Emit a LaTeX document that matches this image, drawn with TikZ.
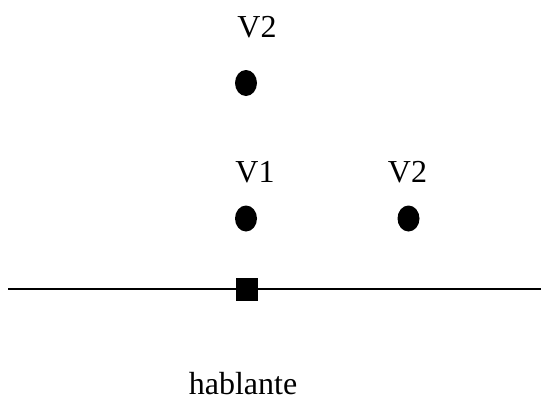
\documentclass[tikz,border=0pt]{standalone}
\usepackage{fontspec}
\setmainfont{Liberation Serif}
\usetikzlibrary{shapes.geometric}
\begin{document}
\begin{tikzpicture}[x=1pt,y=-1pt,
  lbl/.style={anchor=base,inner sep=0pt,font=\fontsize{32}{36}\selectfont},
  dot/.style={ellipse,fill=black,minimum width=22pt,minimum height=26pt,inner sep=0pt},
  sq/.style={rectangle,fill=black,minimum width=22pt,minimum height=23pt,inner sep=0pt}]
\useasboundingbox (0,0) rectangle (554,397);
% baseline with the speaker's square
\coordinate (l) at (8,289);
\coordinate (r) at (541,289);
\draw[line width=1.6pt] (l) -- (r);
\node[sq] (s) at (247,289.5) {};
% dots
\node[dot] (d1) at (246,83) {};
\node[dot] (d2) at (246,218.5) {};
\node[dot] (d3) at (408.5,218.5) {};
% labels
\node[lbl] (t1) at (257,37) {V2};
\node[lbl] (t2) at (255,182) {V1};
\node[lbl] (t3) at (407.5,182) {V2};
\node[lbl,text depth=0pt] (t4) at (243,394) {hablante};
\end{tikzpicture}
\end{document}
